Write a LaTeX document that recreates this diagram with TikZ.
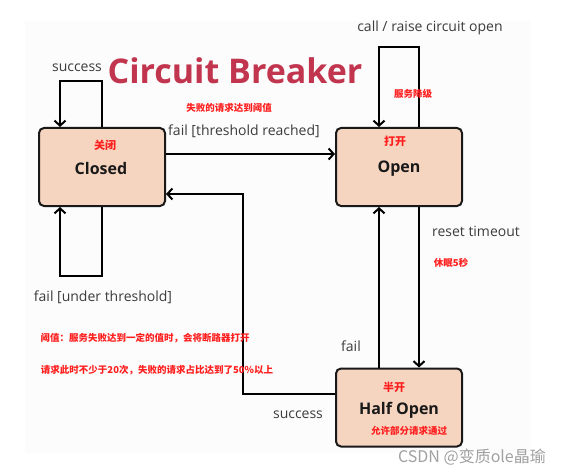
\documentclass[tikz,border=0pt]{standalone}
\usepackage{fontspec}
\setmainfont{Open Sans}
\newfontfamily\cjk{Noto Sans CJK SC}
\usetikzlibrary{arrows.meta}
\definecolor{boxfill}{HTML}{F6D5C0}
\definecolor{lbl}{HTML}{3C3C3C}
\definecolor{ttl}{HTML}{C2354E}
\definecolor{cnred}{HTML}{FF1E1E}
\definecolor{wm}{HTML}{A0A0A0}
\tikzset{
  state/.style={draw=black!90, line width=2pt, fill=boxfill, rounded corners=5pt,
    minimum width=126pt, minimum height=78pt, inner sep=0pt},
  arr/.style={line width=2pt, -{Straight Barb[length=5pt,width=11pt,line width=2pt]}},
  lab/.style={text=lbl, font=\fontsize{14}{16}\selectfont, inner sep=0pt},
  cn/.style={text=cnred, font=\cjk\bfseries\fontsize{9.5}{11}\selectfont, inner sep=0pt},
  cnbig/.style={text=cnred, font=\cjk\bfseries\fontsize{11}{12}\selectfont, inner sep=0pt},
  stname/.style={text=black!90, font=\bfseries\fontsize{16}{18}\selectfont, inner sep=0pt}
}
\begin{document}
\begin{tikzpicture}[x=1pt,y=1pt]
\useasboundingbox (0,0) rectangle (562,-476);
\fill[black!1] (25,-21) rectangle (530,-453);
% states
\node[state] (closed) at (102,-167) {};
\node[state] (open) at (399,-167) {};
\node[state] (half) at (399,-407.5) {};
\node[cnbig] (closedcn) at (105,-145) {关闭};
\node[stname] (closedtx) at (101,-169) {Closed};
\node[cnbig] (opencn) at (395,-141) {打开};
\node[stname] (opentx) at (399,-169) {Open};
\node[cnbig] (halfcn) at (394,-387) {半开};
\node[stname] (halftx) at (399,-410) {Half Open};
\node[cn] (halfnote) at (409,-431) {允许部分请求通过};
% connectors
\draw[arr] (closed.north) -- ++(0,46) -| ([xshift=-42pt]closed.north);
\draw[arr] (closed.south) -- ++(0,-69) -| ([xshift=-42pt]closed.south);
\draw[arr] ([xshift=20pt]open.north) -- ++(0,80) -| ([xshift=-20pt]open.north);
\draw[arr] ([yshift=13pt]closed.east) -- ([yshift=13pt]open.west);
\draw[arr] ([xshift=20pt]open.south) -- ([xshift=20pt]half.north);
\draw[arr] ([xshift=-20pt]half.north) -- ([xshift=-20pt]open.south);
\coordinate (turn) at (243,-194);
\draw[arr] ([yshift=13.5pt]half.west) -| (turn) -- ([yshift=-27pt]closed.east);
% labels
\node[lab] (l1) at (77,-68) {success};
\node[text=ttl, font=\bfseries\fontsize{34}{38}\selectfont, inner sep=0pt] (title) at (235,-71) {Circuit Breaker};
\node[cn] (n1) at (229,-108) {失败的请求达到阈值};
\node[lab] (l2) at (244,-131) {fail [threshold reached]};
\node[lab] (l3) at (430,-28) {call / raise circuit open};
\node[cn] (n2) at (413,-94) {服务降级};
\node[lab] (l4) at (476,-231) {reset timeout};
\node[cn] (n3) at (451,-263) {休眠5秒};
\node[lab] (l5) at (103,-297) {fail [under threshold]};
\node[cn] (n4) at (145,-338) {阈值：服务失败达到一定的值时，会将断路器打开};
\node[cn] (n5) at (157,-370) {请求此时不少于20次，失败的请求占比达到了50\%以上};
\node[lab] (l6) at (351,-346) {fail};
\node[lab] (l7) at (298,-415) {success};
\node[text=wm, font=\cjk\fontsize{16}{18}\selectfont, inner sep=0pt] (wmk) at (472,-457) {CSDN @变质ole晶瑜};
\end{tikzpicture}
\end{document}
